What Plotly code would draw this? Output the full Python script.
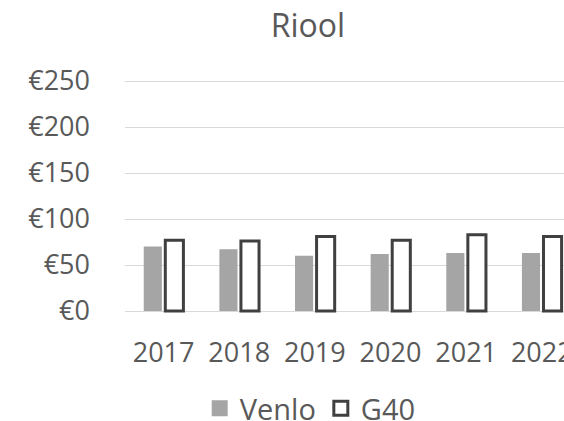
import plotly.graph_objects as go

years = ["2017", "2018", "2019", "2020", "2021", "2022"]
venlo = [70, 67, 60, 62, 63, 63]
g40 = [77, 76, 81, 77, 83, 81]
y_ticks = [0, 50, 100, 150, 200, 250]
y_tick_labels = ["€0", "€50", "€100", "€150", "€200", "€250"]

FONT = "Open Sans"
GREY = "#595959"
VENLO_COLOR = "#a5a5a5"
G40_LINE = "#404040"

fig = go.Figure()
fig.add_trace(go.Bar(
    x=years, y=venlo, name="Venlo", showlegend=False,
    marker=dict(color=VENLO_COLOR, line=dict(width=0)),
))
fig.add_trace(go.Bar(
    x=years, y=g40, name="G40", showlegend=False,
    marker=dict(color="#ffffff", line=dict(color=G40_LINE, width=3)),
))
# legend entries
fig.add_trace(go.Scatter(
    x=[None], y=[None], mode="markers", name="Venlo",
    marker=dict(symbol="square", size=17, color=VENLO_COLOR, line=dict(width=0)),
))
fig.add_trace(go.Scatter(
    x=[None], y=[None], mode="markers", name="G40",
    marker=dict(symbol="square", size=14, color="#ffffff", line=dict(color=G40_LINE, width=3)),
))

fig.update_layout(
    width=564, height=421,
    paper_bgcolor="white", plot_bgcolor="white",
    margin=dict(l=125, r=0, t=79, b=108, autoexpand=False),
    font=dict(family=FONT, color=GREY, size=27),
    title=dict(text="Riool", x=0.546, xanchor="center", y=0.938, yanchor="middle",
               font=dict(family=FONT, size=32, color=GREY)),
    barmode="group", bargap=0.43, bargroupgap=0.16,
    showlegend=True,
    legend=dict(orientation="h", xref="container", yref="container",
                x=0.55, xanchor="center", y=0.03, yanchor="middle",
                font=dict(family=FONT, size=29, color=GREY),
                traceorder="normal", itemclick=False, itemdoubleclick=False),
    xaxis=dict(type="category", range=[-0.51, 5.294], showgrid=False, zeroline=False,
               showline=False, ticks="", ticklabelstandoff=21, automargin=False,
               tickfont=dict(family=FONT, size=27, color=GREY)),
    yaxis=dict(range=[-2.174, 252.174], tickvals=y_ticks, ticktext=y_tick_labels,
               showgrid=True, gridcolor="#d9d9d9", gridwidth=1, zeroline=False,
               showline=False, ticks="", ticklabelstandoff=34, automargin=False,
               tickfont=dict(family=FONT, size=27, color=GREY)),
)

fig.write_html(
    "out.html",
    config={"displayModeBar": False},
    post_script="document.body.style.margin='0';document.body.style.overflow='hidden';",
)
